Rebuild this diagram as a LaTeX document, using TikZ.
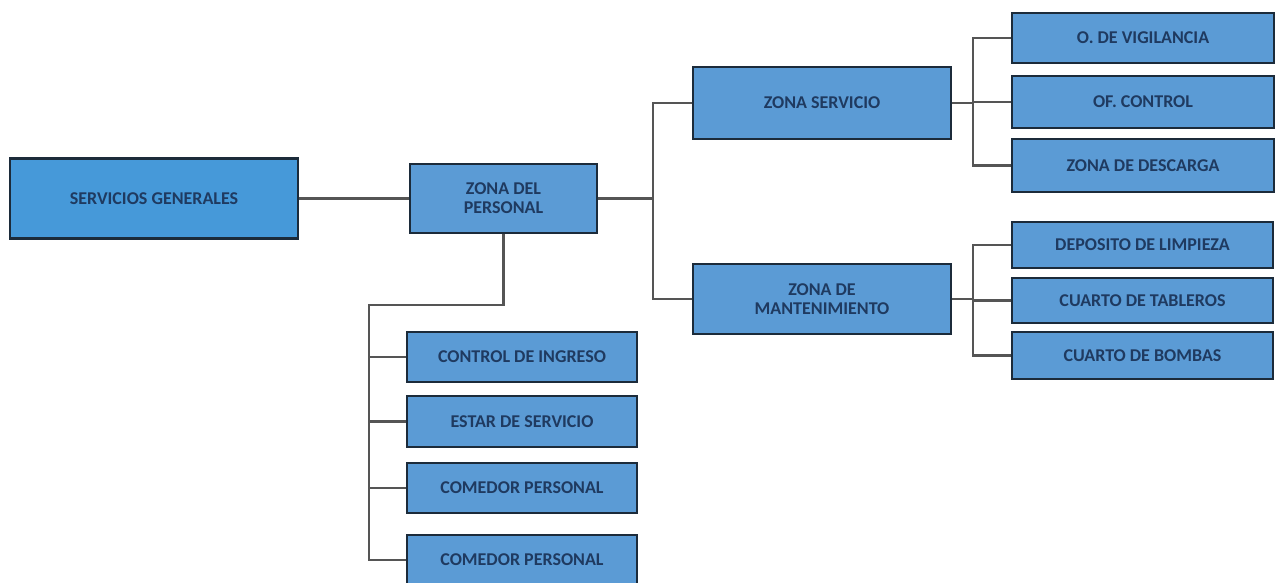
\documentclass[tikz,border=0pt]{standalone}
\usepackage{fontspec}
\setmainfont{Carlito}
\definecolor{boxblue}{HTML}{5B9BD5}
\definecolor{topblue}{HTML}{4699D9}
\definecolor{boxline}{HTML}{1C2B3A}
\definecolor{boxtext}{HTML}{1F3A60}
\definecolor{wire}{HTML}{555555}
\begin{document}
\begin{tikzpicture}[x=1pt,y=-1pt,
  zonebox/.style={draw=boxline,line width=2.6pt,fill=boxblue,text=boxtext,
    font=\fontsize{18}{19}\selectfont\bfseries,align=center,inner sep=0pt},
  wirelink/.style={draw=wire,line width=2.2pt}]
\useasboundingbox (0,0) rectangle (1284,583);
% main boxes
\node[zonebox,fill=topblue,minimum width=288,minimum height=80] (sg) at (154,198.5) {SERVICIOS GENERALES};
\node[zonebox,minimum width=187,minimum height=69] (zdp) at (503.5,198.5) {ZONA DEL\\PERSONAL};
\node[zonebox,minimum width=258,minimum height=72] (zs) at (822,103) {ZONA SERVICIO};
\node[zonebox,minimum width=258,minimum height=70] (zm) at (822,299) {ZONA DE\\MANTENIMIENTO};
% right column
\node[zonebox,minimum width=262,minimum height=50] (vig) at (1143,38) {O. DE VIGILANCIA};
\node[zonebox,minimum width=262,minimum height=52] (ctl) at (1143,102) {OF. CONTROL};
\node[zonebox,minimum width=262,minimum height=53] (des) at (1143,165.5) {ZONA DE DESCARGA};
\node[zonebox,minimum width=261,minimum height=46] (lim) at (1142.5,245) {DEPOSITO DE LIMPIEZA};
\node[zonebox,minimum width=261,minimum height=45] (tab) at (1142.5,300.5) {CUARTO DE TABLEROS};
\node[zonebox,minimum width=261,minimum height=47] (bom) at (1142.5,355.5) {CUARTO DE BOMBAS};
% lower column
\node[zonebox,minimum width=230,minimum height=50] (ing) at (522,357) {CONTROL DE INGRESO};
\node[zonebox,minimum width=230,minimum height=51] (est) at (522,421.5) {ESTAR DE SERVICIO};
\node[zonebox,minimum width=230,minimum height=50] (com1) at (522,488) {COMEDOR PERSONAL};
\node[zonebox,minimum width=230,minimum height=50] (com2) at (522,560) {COMEDOR PERSONAL};
% connectors
\coordinate (j1) at (653,198.5);
\coordinate (j2) at (973,103);
\coordinate (j3) at (973,299);
\coordinate (j4) at (369,305);
\draw[wirelink] (sg.east) -- (zdp.west);
\draw[wirelink] (zdp.east) -- (j1);
\draw[wirelink] (zs.west) -| (j1) |- (zm.west);
\draw[wirelink] (zs.east) -- (j2);
\draw[wirelink] (vig.west) -| (j2) |- (des.west);
\draw[wirelink] (ctl.west) -- (ctl.west -| j2);
\draw[wirelink] (zm.east) -- (j3);
\draw[wirelink] (lim.west) -| (j3) |- (bom.west);
\draw[wirelink] (tab.west) -- (tab.west -| j3);
\draw[wirelink] (zdp.south) |- (j4) |- (com2.west);
\foreach \n in {ing,est,com1}
  \draw[wirelink] (\n.west) -- (\n.west -| j4);
\end{tikzpicture}
\end{document}
